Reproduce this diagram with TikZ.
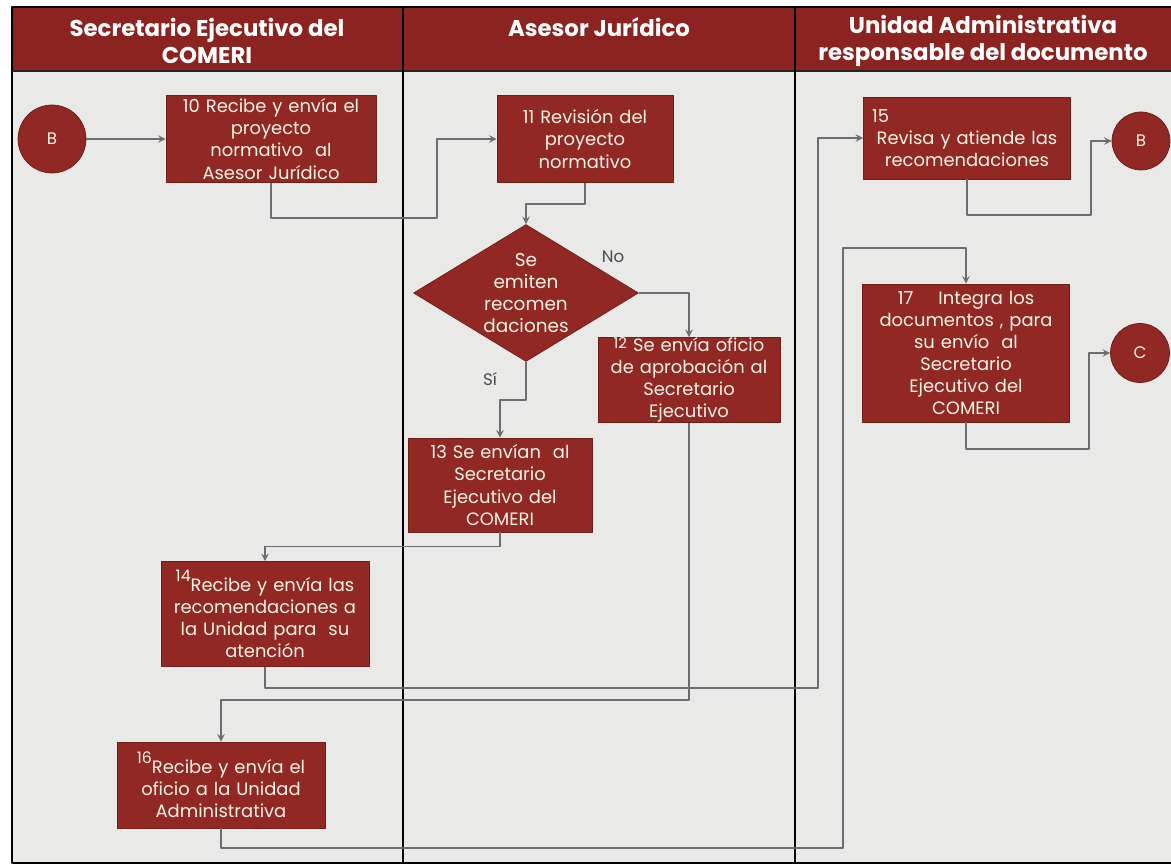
\documentclass[tikz,border=0pt]{standalone}
\usepackage{fontspec}
\setmainfont{Poppins}
\usetikzlibrary{shapes.geometric}
\definecolor{guinda}{RGB}{146,40,36}
\definecolor{guindaosc}{RGB}{139,36,32}
\definecolor{fondo}{RGB}{233,233,231}
\definecolor{gris}{RGB}{106,110,110}
\definecolor{crema}{RGB}{251,245,232}
\begin{document}
\begin{tikzpicture}[x=0.02cm,y=-0.02cm,>=stealth,line join=round,
	paso/.style={draw=guinda!75!black,fill=guinda,text=crema,align=center,inner sep=0pt,font=\fontsize{10.2}{12.6}\selectfont},
	decision/.style={diamond,aspect=1.64,draw=guinda!75!black,fill=guinda,text=crema,align=center,inner sep=0pt,minimum width=4.5cm,minimum height=2.74cm,font=\fontsize{10.5}{12.4}\selectfont},
	conector/.style={circle,draw=guinda!70!black,fill=guinda,text=crema,inner sep=0pt,font=\fontsize{9.5}{11}\selectfont},
	flecha/.style={->,draw=gris,line width=0.9pt},
	carril/.style={text=white,align=center,font=\fontsize{13}{15.3}\selectfont\bfseries},
	etiqueta/.style={text=gris!70!black,font=\fontsize{9.5}{11}\selectfont}]
	\useasboundingbox (0,0) rectangle (1171,865);
	% carriles
	\fill[fondo] (12,71) rectangle (1171,863);
	\fill[guindaosc] (12,7) rectangle (1171,71);
	\draw[line width=0.8pt] (1171,7) -- (12,7) -- (12,863) -- (1171,863);
	\draw[line width=1.4pt,black!85] (12,71) -- (1171,71);
	\foreach \x in {403,795}{\draw[line width=0.8pt] (\x,7) -- (\x,863);}
	\node[carril] (t1) at (207,41) {Secretario Ejecutivo del\\COMERI};
	\node[carril] (t2) at (599,27) {Asesor Jurídico};
	\node[carril] (t3) at (983,41) {Unidad Administrativa\\responsable del documento};
	% pasos
	\node[paso,minimum width=4.2cm,minimum height=1.74cm,text width=4cm] (p10) at (271,139) {10 Recibe y envía el\\proyecto\\normativo\ \ al\\Asesor Jurídico};
	\node[paso,minimum width=3.52cm,minimum height=1.74cm,text width=3.4cm] (p11) at (585,139) {11 Revisión del\\proyecto\\normativo};
	\node[decision] (dec) at (526,293) {Se\\emiten\\recomen\\daciones};
	\node[paso,minimum width=3.64cm,minimum height=1.7cm,text width=3.6cm] (p12) at (689,380) {{\fontsize{8.5}{9}\selectfont\raisebox{.35ex}{12}} Se envía oficio\\de aprobación al\\Secretario\\Ejecutivo};
	\node[paso,minimum width=3.68cm,minimum height=1.88cm,text width=3.5cm] (p13) at (500,485) {13 Se envían\ \ al\\Secretario\\Ejecutivo del\\COMERI};
	\node[paso,minimum width=4.16cm,minimum height=2.1cm,text width=4cm] (p14) at (265,614) {{\fontsize{9}{9}\selectfont\raisebox{1.1ex}{14}}Recibe y envía las\\recomendaciones a\\la Unidad para\ \ su\\atención};
	\node[paso,minimum width=4.14cm,minimum height=1.64cm,text width=3.8cm] (p15) at (967,138) {\makebox[\hsize][l]{15}\\Revisa y atiende las\\recomendaciones};
	\node[paso,minimum width=4.16cm,minimum height=1.72cm,text width=4cm] (p16) at (221,785) {{\fontsize{9}{9}\selectfont\raisebox{1.1ex}{16}}Recibe y envía el\\oficio a la Unidad\\Administrativa};
	\node[paso,minimum width=4.14cm,minimum height=2.76cm,text width=3.9cm] (p17) at (966,353) {17\hspace{1.4em}Integra los\\documentos , para\\su envío\ \ al\\Secretario\\Ejecutivo del\\COMERI};
	\foreach \n/\p/\d/\t in {bA/{52,139}/1.36/B,bB/{1141,141}/1.16/B,bC/{1140,353}/1.18/C}{
		\node[conector,minimum size=\d cm] (\n) at (\p) {\t};}
	\node[etiqueta] (no) at (613,257) {No};
	\node[etiqueta] (si) at (490,379) {Sí};
	% flechas
	\draw[flecha] (bA) -- (p10);
	\draw[flecha] (p10.south) |- (437,218) |- (p11.west);
	\draw[flecha] (p11.south) -- ++(0,21) -| (dec.north);
	\draw[flecha] (dec.east) -| (p12.north);
	\draw[flecha] (dec.south) -- ++(0,38) -| (p13.north);
	\draw[flecha] (p13.south) -- ++(0,14) -| (p14.north);
	\draw[flecha] (p14.south) |- (818,688) |- (p15.west);
	\draw[flecha] (p12.south) -- ++(0,277) -| (p16.north);
	\draw[flecha] (p16.south) |- (843,848) -- (843,248) -| (p17.north);
	\draw[flecha] (p15.south) |- (1091,215) |- (bB.west);
	\draw[flecha] (p17.south) |- (1089,449) |- (bC.west);
\end{tikzpicture}
\end{document}
